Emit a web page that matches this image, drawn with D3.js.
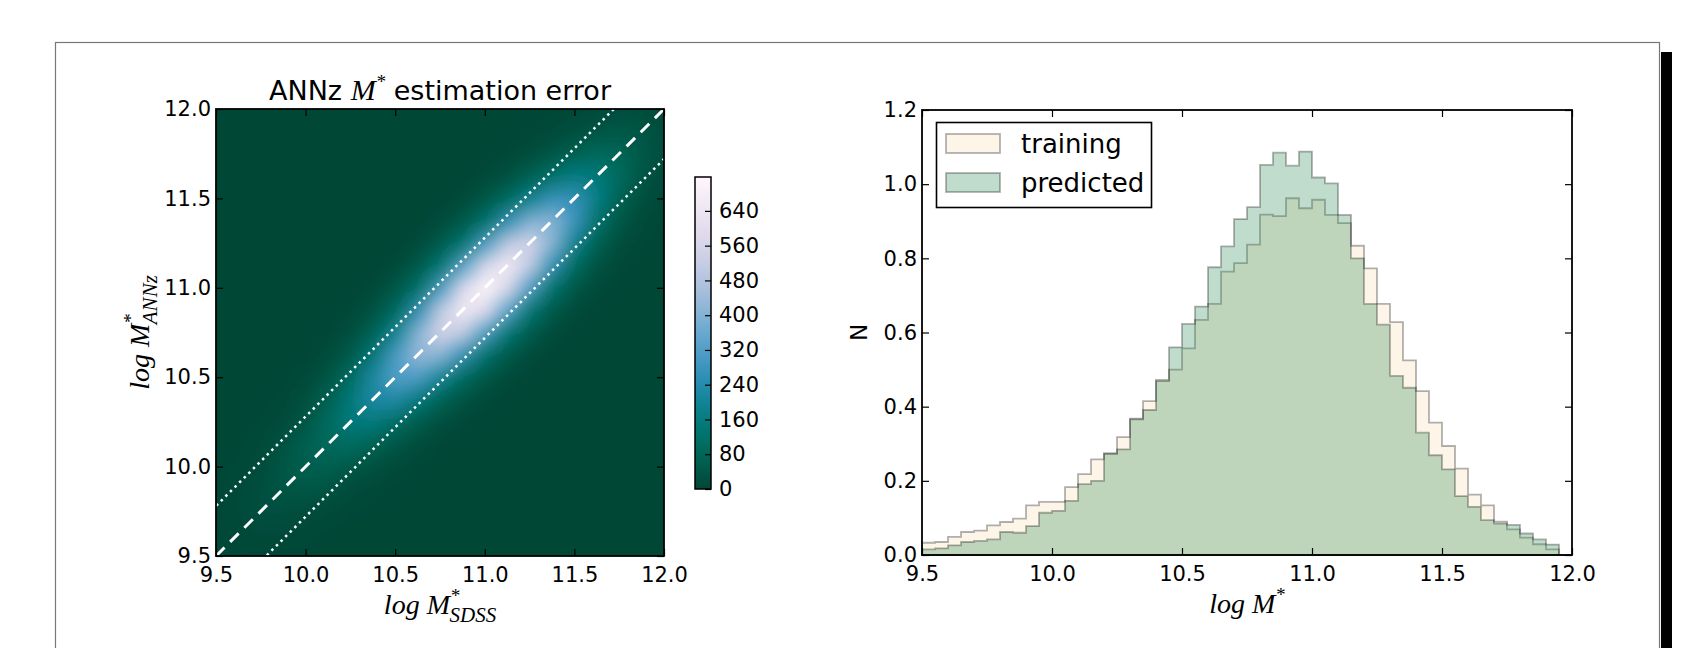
<!DOCTYPE html>
<html>
<head>
<meta charset="utf-8">
<script src="https://cdn.jsdelivr.net/npm/d3@7"></script>
<style>
  body { margin: 0; background: #fff; }
  svg { display: block; }
  text { font-family: "DejaVu Sans", sans-serif; fill: #000; }
  .math { font-family: "Liberation Serif", serif; font-style: italic; }
</style>
</head>
<body>
<svg id="chart" width="1700" height="648"></svg>
<script>
// ---- data ----

// left edges of the 0.05 wide bins (log M*)
var binEdges = [9.50, 9.55, 9.60, 9.65, 9.70, 9.75, 9.80, 9.85, 9.90, 9.95,
  10.00, 10.05, 10.10, 10.15, 10.20, 10.25, 10.30, 10.35, 10.40, 10.45,
  10.50, 10.55, 10.60, 10.65, 10.70, 10.75, 10.80, 10.85, 10.90, 10.95,
  11.00, 11.05, 11.10, 11.15, 11.20, 11.25, 11.30, 11.35, 11.40, 11.45,
  11.50, 11.55, 11.60, 11.65, 11.70, 11.75, 11.80, 11.85, 11.90, 11.95];

var training = [0.033, 0.035, 0.049, 0.062, 0.066, 0.080, 0.089, 0.098, 0.134, 0.143,
  0.143, 0.183, 0.218, 0.258, 0.274, 0.318, 0.368, 0.415, 0.472, 0.500,
  0.557, 0.634, 0.677, 0.764, 0.787, 0.837, 0.918, 0.914, 0.962, 0.935,
  0.958, 0.917, 0.895, 0.834, 0.773, 0.677, 0.628, 0.525, 0.442, 0.357,
  0.294, 0.233, 0.163, 0.134, 0.090, 0.069, 0.047, 0.029, 0.015, 0.0];

var predicted = [0.015, 0.018, 0.026, 0.035, 0.038, 0.042, 0.062, 0.060, 0.078, 0.114,
  0.119, 0.146, 0.191, 0.200, 0.273, 0.285, 0.366, 0.391, 0.469, 0.560,
  0.623, 0.670, 0.776, 0.832, 0.906, 0.938, 1.052, 1.085, 1.050, 1.088,
  1.018, 1.002, 0.917, 0.800, 0.677, 0.621, 0.483, 0.451, 0.330, 0.269,
  0.231, 0.159, 0.130, 0.094, 0.085, 0.081, 0.058, 0.042, 0.028, 0.0];

var seriesNames = ["training", "predicted"];

// density of (log M*_SDSS, log M*_ANNz) on a 0.125 grid
var densityX = [9.5, 9.625, 9.75, 9.875, 10.0, 10.125, 10.25, 10.375, 10.5, 10.625,
  10.75, 10.875, 11.0, 11.125, 11.25, 11.375, 11.5, 11.625, 11.75, 11.875, 12.0];
var densityY = densityX.slice().reverse();   // rows listed from top (12.0) down
var densityRows = [
  [0,0,0,0,0,0,0,0,0,0,0,0,0,0,0,3,5,12,17,18,14],
  [0,0,0,0,0,0,0,0,0,0,0,0,0,0,5,11,24,36,47,36,18],
  [0,0,0,0,0,0,0,0,0,0,0,0,0,8,19,41,69,94,79,47,17],
  [0,0,0,0,0,0,0,0,0,0,0,0,10,29,67,122,171,151,94,36,12],
  [0,0,0,0,0,0,0,0,0,0,0,12,40,98,188,276,266,171,69,24,5],
  [0,0,0,0,0,0,0,0,0,0,15,46,124,258,400,409,276,122,41,11,3],
  [0,0,0,0,0,0,0,0,0,15,51,139,307,506,560,400,188,67,19,5,0],
  [0,0,0,0,0,0,0,0,13,46,143,330,571,668,506,258,98,29,8,0,0],
  [0,0,0,0,0,0,0,10,40,124,307,583,718,571,307,124,40,10,0,0,0],
  [0,0,0,0,0,0,8,30,99,258,506,668,583,330,139,46,12,0,0,0,0],
  [0,0,0,0,0,5,22,74,198,406,560,506,307,143,51,15,0,0,0,0,0],
  [0,0,0,0,3,16,54,149,306,431,406,258,124,46,15,0,0,0,0,0,0],
  [0,0,0,3,11,38,103,224,323,306,198,99,40,13,0,0,0,0,0,0,0],
  [0,0,3,6,25,69,153,223,224,149,74,30,10,0,0,0,0,0,0,0,0],
  [0,1,5,15,43,100,151,153,103,54,22,8,0,0,0,0,0,0,0,0,0],
  [0,3,11,30,65,93,100,69,38,16,5,0,0,0,0,0,0,0,0,0,0],
  [2,6,17,41,65,65,43,25,11,3,0,0,0,0,0,0,0,0,0,0,0],
  [2,10,24,36,41,30,15,6,3,0,0,0,0,0,0,0,0,0,0,0,0],
  [3,11,22,24,17,11,5,3,0,0,0,0,0,0,0,0,0,0,0,0,0],
  [4,7,11,10,6,3,1,0,0,0,0,0,0,0,0,0,0,0,0,0,0],
  [4,4,3,2,2,0,0,0,0,0,0,0,0,0,0,0,0,0,0,0,0]
];

// y = x and the +-0.28 scatter band drawn over the density
var bandOffsets = [0.28, -0.28];

var massTicks = [9.5, 10.0, 10.5, 11.0, 11.5, 12.0];
var colourbarTicks = [0, 80, 160, 240, 320, 400, 480, 560, 640];
var countTicks = [0.0, 0.2, 0.4, 0.6, 0.8, 1.0, 1.2];

// ---- layout ----
var heat = { left: 216, top: 109, width: 448, height: 447 };
var cbar = { left: 695, top: 177, width: 16, height: 312 };
var hist = { left: 922, top: 110, width: 650, height: 445 };
var tickLen = 7;
var fmt1 = d3.format(".1f");

var svg = d3.select("#chart");

// outer page frame with its shadow
svg.append("rect")
  .attr("x", 55.5).attr("y", 42.5)
  .attr("width", 1604).attr("height", 700)
  .attr("fill", "none").attr("stroke", "#777").attr("stroke-width", 1.2);
svg.append("rect")
  .attr("x", 1661).attr("y", 52)
  .attr("width", 11).attr("height", 600)
  .attr("fill", "#000");

// ============ left panel: density ============
var xHeat = d3.scaleLinear().domain([9.5, 12]).range([heat.left, heat.left + heat.width]);
var yHeat = d3.scaleLinear().domain([9.5, 12]).range([heat.top + heat.height, heat.top]);

var vmax = d3.max(densityRows, function(r) { return d3.max(r); });
var colour = d3.scaleSequential(function(t) { return d3.interpolatePuBuGn(1 - t); })
  .domain([0, vmax]);

var defs = svg.append("defs");
defs.append("clipPath").attr("id", "heatClip")
  .append("rect")
  .attr("x", heat.left).attr("y", heat.top)
  .attr("width", heat.width).attr("height", heat.height);
defs.append("filter").attr("id", "smooth")
  .attr("x", "-10%").attr("y", "-10%").attr("width", "120%").attr("height", "120%")
  .append("feGaussianBlur").attr("stdDeviation", 6);

// paint the grid into a tiny canvas, let the browser smooth it up
var nx = densityX.length, ny = densityY.length;
var canvas = document.createElement("canvas");
canvas.width = nx;
canvas.height = ny;
var ctx = canvas.getContext("2d");
var imgData = ctx.createImageData(nx, ny);
densityRows.forEach(function(row, r) {
  row.forEach(function(v, c) {
    var col = d3.rgb(colour(v));
    var k = 4 * (r * nx + c);
    imgData.data[k] = col.r;
    imgData.data[k + 1] = col.g;
    imgData.data[k + 2] = col.b;
    imgData.data[k + 3] = 255;
  });
});
ctx.putImageData(imgData, 0, 0);

var cellW = xHeat(densityX[1]) - xHeat(densityX[0]);
var cellH = Math.abs(yHeat(densityY[1]) - yHeat(densityY[0]));

var heatGroup = svg.append("g").attr("clip-path", "url(#heatClip)");
heatGroup.append("rect")
  .attr("x", heat.left).attr("y", heat.top)
  .attr("width", heat.width).attr("height", heat.height)
  .attr("fill", colour(0));
heatGroup.append("image")
  .attr("href", canvas.toDataURL())
  .attr("x", xHeat(densityX[0]) - cellW / 2)
  .attr("y", yHeat(densityY[0]) - cellH / 2)
  .attr("width", cellW * nx)
  .attr("height", cellH * ny)
  .attr("preserveAspectRatio", "none")
  .attr("filter", "url(#smooth)");

// one-to-one line and the scatter band
var lineGen = d3.line().x(function(d) { return xHeat(d[0]); }).y(function(d) { return yHeat(d[1]); });
heatGroup.append("path")
  .attr("d", lineGen([[9.5, 9.5], [12, 12]]))
  .attr("fill", "none").attr("stroke", "#fff")
  .attr("stroke-width", 3).attr("stroke-dasharray", "12,8");
bandOffsets.forEach(function(o) {
  heatGroup.append("path")
    .attr("d", lineGen([[9.5 - 1, 9.5 - 1 + o], [12 + 1, 12 + 1 + o]]))
    .attr("fill", "none").attr("stroke", "#fff")
    .attr("stroke-width", 2.5).attr("stroke-dasharray", "2.5,4");
});

// axes, ticks inside on all four sides
function addAxes(g, xs, ys, box, xTicks, yTicks, xFmt, yFmt) {
  g.append("g")
    .attr("transform", "translate(0," + (box.top + box.height) + ")")
    .call(d3.axisBottom(xs).tickValues(xTicks).tickFormat(xFmt).tickSizeInner(-tickLen).tickSizeOuter(0).tickPadding(11));
  g.append("g")
    .attr("transform", "translate(0," + box.top + ")")
    .call(d3.axisTop(xs).tickValues(xTicks).tickFormat("").tickSizeInner(-tickLen).tickSizeOuter(0));
  g.append("g")
    .attr("transform", "translate(" + box.left + ",0)")
    .call(d3.axisLeft(ys).tickValues(yTicks).tickFormat(yFmt).tickSizeInner(-tickLen).tickSizeOuter(0).tickPadding(5));
  g.append("g")
    .attr("transform", "translate(" + (box.left + box.width) + ",0)")
    .call(d3.axisRight(ys).tickValues(yTicks).tickFormat("").tickSizeInner(-tickLen).tickSizeOuter(0));
  g.selectAll(".domain").remove();
  g.selectAll(".tick line").attr("stroke", "#000").attr("stroke-width", 1.2);
  g.selectAll(".tick text").attr("font-size", 21).attr("font-family", "DejaVu Sans");
  g.append("rect")
    .attr("x", box.left).attr("y", box.top)
    .attr("width", box.width).attr("height", box.height)
    .attr("fill", "none").attr("stroke", "#000").attr("stroke-width", 1.8);
}

addAxes(svg.append("g"), xHeat, yHeat, heat, massTicks, massTicks, fmt1, fmt1);

// title
var title = svg.append("text")
  .attr("x", heat.left + heat.width / 2).attr("y", 100)
  .attr("text-anchor", "middle").attr("font-size", 27);
title.append("tspan").text("ANNz ");
title.append("tspan").attr("class", "math").attr("font-size", 30).text("M");
title.append("tspan").attr("class", "math").attr("font-size", 19).attr("dy", -12).text("*");
title.append("tspan").attr("dy", 12).text("  estimation error");

// axis labels with super/subscripts
function massLabel(g, sub) {
  g.attr("class", "math").attr("font-size", 28);
  g.append("tspan").text("log M");
  g.append("tspan").attr("font-size", 19).attr("dy", -12).text("*");
  if (sub) {
    g.append("tspan").attr("font-size", 21).attr("dx", -10).attr("dy", 20).text(sub);
  }
}
massLabel(svg.append("text")
  .attr("x", heat.left + heat.width / 2).attr("y", 614)
  .attr("text-anchor", "middle"), "SDSS");
massLabel(svg.append("text")
  .attr("text-anchor", "middle")
  .attr("transform", "translate(149," + (heat.top + heat.height / 2) + ") rotate(-90)"), "ANNz");

// colour bar
var cbScale = d3.scaleLinear().domain([0, vmax]).range([cbar.top + cbar.height, cbar.top]);
var grad = defs.append("linearGradient").attr("id", "cbGrad")
  .attr("x1", 0).attr("y1", 1).attr("x2", 0).attr("y2", 0);
d3.range(0, 1.0001, 0.05).forEach(function(t) {
  grad.append("stop").attr("offset", t).attr("stop-color", colour(t * vmax));
});
svg.append("rect")
  .attr("x", cbar.left).attr("y", cbar.top)
  .attr("width", cbar.width).attr("height", cbar.height)
  .attr("fill", "url(#cbGrad)");
var cbAxis = svg.append("g")
  .attr("transform", "translate(" + (cbar.left + cbar.width) + ",0)")
  .call(d3.axisRight(cbScale).tickValues(colourbarTicks).tickSizeInner(-6).tickSizeOuter(0).tickPadding(8));
cbAxis.select(".domain").remove();
cbAxis.selectAll(".tick line").attr("stroke", "#000").attr("stroke-width", 1.2);
cbAxis.selectAll(".tick text").attr("font-size", 21).attr("font-family", "DejaVu Sans");
svg.append("rect")
  .attr("x", cbar.left).attr("y", cbar.top)
  .attr("width", cbar.width).attr("height", cbar.height)
  .attr("fill", "none").attr("stroke", "#000").attr("stroke-width", 1.5);

// ============ right panel: histograms ============
var xHist = d3.scaleLinear().domain([9.5, 12]).range([hist.left, hist.left + hist.width]);
var yHist = d3.scaleLinear().domain([0, 1.2]).range([hist.top + hist.height, hist.top]);

var styles = {
  training: { fill: "#f5deb3" },
  predicted: { fill: "#2e8b57" }
};

var stepArea = d3.area()
  .x(function(d) { return xHist(d[0]); })
  .y0(yHist(0))
  .y1(function(d) { return yHist(d[1]); })
  .curve(d3.curveStepAfter);

[training, predicted].forEach(function(vals, s) {
  var pts = binEdges.map(function(e, i) { return [e, vals[i]]; });
  pts.push([12.0, vals[vals.length - 1]]);
  svg.append("path")
    .attr("d", stepArea(pts))
    .attr("fill", styles[seriesNames[s]].fill).attr("fill-opacity", 0.3)
    .attr("stroke", "#000").attr("stroke-opacity", 0.3).attr("stroke-width", 1.8);
});

addAxes(svg.append("g"), xHist, yHist, hist, massTicks, countTicks, fmt1, fmt1);

massLabel(svg.append("text")
  .attr("x", hist.left + hist.width / 2).attr("y", 613)
  .attr("text-anchor", "middle"), null);
svg.append("text")
  .attr("text-anchor", "middle").attr("font-size", 23)
  .attr("transform", "translate(867," + (hist.top + hist.height / 2) + ") rotate(-90)")
  .text("N");

// legend
var legend = svg.append("g");
legend.append("rect")
  .attr("x", 936.5).attr("y", 122.5).attr("width", 215).attr("height", 85)
  .attr("fill", "#fff").attr("stroke", "#000").attr("stroke-width", 1.6);
seriesNames.forEach(function(name, i) {
  var y = 134 + i * 39;
  legend.append("rect")
    .attr("x", 946).attr("y", y).attr("width", 54).attr("height", 19)
    .attr("fill", styles[name].fill).attr("fill-opacity", 0.3)
    .attr("stroke", "#000").attr("stroke-opacity", 0.3).attr("stroke-width", 1.8);
  legend.append("text")
    .attr("x", 1021).attr("y", y + 19)
    .attr("font-size", 26)
    .text(name);
});
</script>
</body>
</html>
